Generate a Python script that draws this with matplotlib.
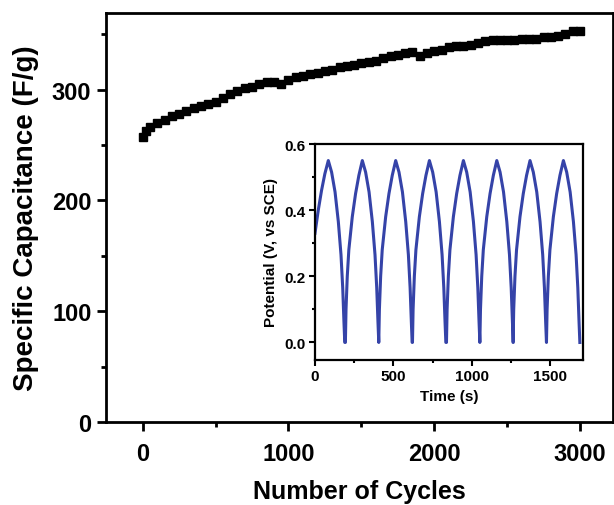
import numpy as np
import matplotlib
matplotlib.use('Agg')
import matplotlib.pyplot as plt
from matplotlib.ticker import MultipleLocator, FormatStrFormatter

plt.rcParams['font.family'] = ['Liberation Sans', 'DejaVu Sans']
plt.rcParams['font.weight'] = 'bold'

# main curve: specific capacitance vs number of cycles
cycles = [0, 20, 50, 100, 150, 200, 250, 300, 350, 400, 450, 500, 550, 600, 650,
          700, 750, 800, 850, 900, 950, 1000, 1050, 1100, 1150, 1200, 1250, 1300,
          1350, 1400, 1450, 1500, 1550, 1600, 1650, 1700, 1750, 1800, 1850, 1900,
          1950, 2000, 2050, 2100, 2150, 2200, 2250, 2300, 2350, 2400, 2450, 2500,
          2550, 2600, 2650, 2700, 2750, 2800, 2850, 2900, 2950, 3000]
capacitance = [257, 263, 266, 270, 273, 276, 278, 281, 283, 285, 287, 289, 292, 296, 299,
               301, 302, 305, 307, 307, 305, 309, 311, 312, 314, 315, 317, 318,
               320, 321, 322, 324, 325, 326, 328, 330, 331, 333, 334, 330,
               333, 335, 336, 338, 339, 339, 340, 342, 344, 345, 345, 345,
               345, 346, 346, 346, 347, 347, 348, 350, 353, 353]

# inset: galvanostatic charge/discharge
first_t = [0, 21, 42, 63, 85]
first_v = [0.33, 0.40, 0.46, 0.51, 0.55]
peak_times = [85, 302, 515, 730, 947, 1160, 1372, 1585]
charge_dt = [-108, -104, -96, -86, -64, -43, -22, 0]      # seconds before a peak
charge_v = [0.0, 0.10, 0.20, 0.28, 0.38, 0.45, 0.505, 0.55]
discharge_dt = [0, 21, 43, 64, 81, 92, 100, 105]            # seconds after a peak
discharge_v = [0.55, 0.515, 0.455, 0.365, 0.265, 0.165, 0.06, 0.0]

time_s, potential = list(first_t[:-1]), list(first_v[:-1])
for k, tp in enumerate(peak_times):
    if k > 0:
        time_s += [tp + d for d in charge_dt[:-1]]
        potential += charge_v[:-1]
    time_s += [tp + d for d in discharge_dt]
    potential += discharge_v

fig = plt.figure(figsize=(6.14, 5.06), dpi=100)
ax = fig.add_axes([0.1726, 0.1634, 0.8258, 0.8089])
ax.plot(cycles, capacitance, 's', color='black', ms=6.4, mec='black')
ax.set_xlim(-252, 3226)
ax.set_ylim(0, 369)
ax.xaxis.set_major_locator(MultipleLocator(1000))
ax.xaxis.set_minor_locator(MultipleLocator(500))
ax.yaxis.set_major_locator(MultipleLocator(100))
ax.yaxis.set_minor_locator(MultipleLocator(50))
ax.tick_params(which='major', direction='out', length=6.5, width=2, labelsize=17)
ax.tick_params(which='minor', direction='out', length=3.5, width=2)
ax.tick_params(axis='x', which='major', pad=8)
ax.tick_params(axis='y', which='major', pad=4)
for s in ax.spines.values():
    s.set_linewidth(2)
ax.set_xlabel('Number of Cycles', fontsize=18, fontweight='bold', labelpad=10)
ax.set_ylabel('Specific Capacitance (F/g)', fontsize=20, fontweight='bold', labelpad=9)

ins = fig.add_axes([0.513, 0.2866, 0.437, 0.4268])
ins.plot(time_s, potential, '-', color='#3543a8', lw=2.2)
ins.set_xlim(0, 1712)
ins.set_ylim(-0.053, 0.6)
ins.xaxis.set_major_locator(MultipleLocator(500))
ins.xaxis.set_minor_locator(MultipleLocator(250))
ins.yaxis.set_major_locator(MultipleLocator(0.2))
ins.yaxis.set_minor_locator(MultipleLocator(0.1))
ins.yaxis.set_major_formatter(FormatStrFormatter('%.1f'))
ins.tick_params(which='major', direction='out', length=4, width=1.5, labelsize=11, pad=2.5)
ins.tick_params(which='minor', direction='out', length=2.5, width=1.5)
for s in ins.spines.values():
    s.set_linewidth(1.6)
ins.set_xlabel('Time (s)', fontsize=11, fontweight='bold', labelpad=4)
ins.set_ylabel('Potential (V, vs SCE)', fontsize=11, fontweight='bold', labelpad=5)

fig.savefig('out.png', dpi=100)
